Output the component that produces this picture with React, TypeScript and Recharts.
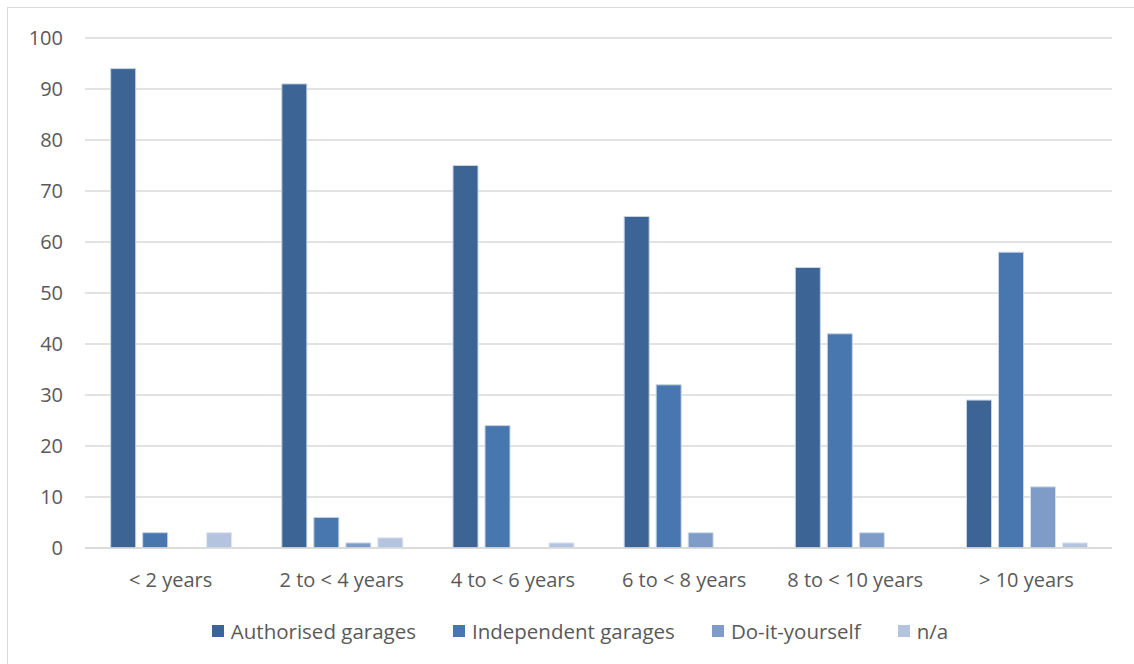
import { BarChart, Bar, XAxis, YAxis, CartesianGrid, Legend } from "recharts";

// Vehicle age bands and share of servicing by channel (%)
const ageBands = ["< 2 years", "2 to < 4 years", "4 to < 6 years", "6 to < 8 years", "8 to < 10 years", "> 10 years"];
const authorised = [94, 91, 75, 65, 55, 29];
const independent = [3, 6, 24, 32, 42, 58];
const diy = [0, 1, 0, 3, 3, 12];
const notAnswered = [3, 2, 1, 0, 0, 1];
const yTicks = [0, 10, 20, 30, 40, 50, 60, 70, 80, 90, 100];

const series = [
  { key: "authorised", name: "Authorised garages", color: "#3C6596", edge: "#c9d3e3" },
  { key: "independent", name: "Independent garages", color: "#4877B0", edge: "#c9d3e3" },
  { key: "diy", name: "Do-it-yourself", color: "#7F9CC9", edge: "#d5deec" },
  { key: "na", name: "n/a", color: "#B4C3DE", edge: "#e2e8f2" },
];

const chartData = ageBands.map((band, i) => ({
  band,
  authorised: authorised[i],
  independent: independent[i],
  diy: diy[i],
  na: notAnswered[i],
}));

const font = "'Open Sans', sans-serif";
const textColor = "#595959";

// keep legend entries in series order
const LegendRow = () => (
  <div style={{ display: "flex", justifyContent: "center", gap: 37, paddingLeft: 26, fontSize: 20.5, color: textColor, fontFamily: font }}>
    {series.map((s) => (
      <div key={s.key} style={{ display: "flex", alignItems: "center" }}>
        <span style={{ width: 12, height: 12, background: s.color, marginRight: 7, display: "inline-block" }} />
        <span>{s.name}</span>
      </div>
    ))}
  </div>
);

export default function App() {
  return (
    <div style={{ position: "absolute", left: 0, top: 0, width: 1134, height: 664, background: "#fff", overflow: "hidden", fontFamily: font }}>
      <div style={{ position: "absolute", left: 7, top: 7, width: 1130, height: 670, border: "1px solid #d9d9d9", boxSizing: "border-box" }} />
      <div style={{ position: "absolute", left: 0, top: 0 }}>
        <BarChart
          width={1134}
          height={664}
          data={chartData}
          margin={{ top: 38, right: 22, left: 15, bottom: 38 }}
          barCategoryGap="15%"
          barGap={7}
        >
          <CartesianGrid vertical={false} stroke="#d9d9d9" strokeWidth={1.5} />
          <XAxis
            dataKey="band"
            axisLine={{ stroke: "#d9d9d9", strokeWidth: 1.5 }}
            tickLine={false}
            tick={{ fontSize: 20, fill: textColor, fontFamily: font }}
            tickMargin={19}
            height={50}
          />
          <YAxis
            domain={[0, 100]}
            ticks={yTicks}
            axisLine={false}
            tickLine={false}
            tick={{ fontSize: 20, fill: textColor, fontFamily: font }}
            tickMargin={16}
            width={70}
            interval={0}
          />
          <Legend
            verticalAlign="bottom"
            wrapperStyle={{ top: 617, left: 0, width: 1134 }}
            content={() => <LegendRow />}
          />
          {series.map((s) => (
            <Bar
              key={s.key}
              dataKey={s.key}
              name={s.name}
              fill={s.color}
              stroke={s.edge}
              strokeWidth={1}
              isAnimationActive={false}
            />
          ))}
        </BarChart>
      </div>
    </div>
  );
}
